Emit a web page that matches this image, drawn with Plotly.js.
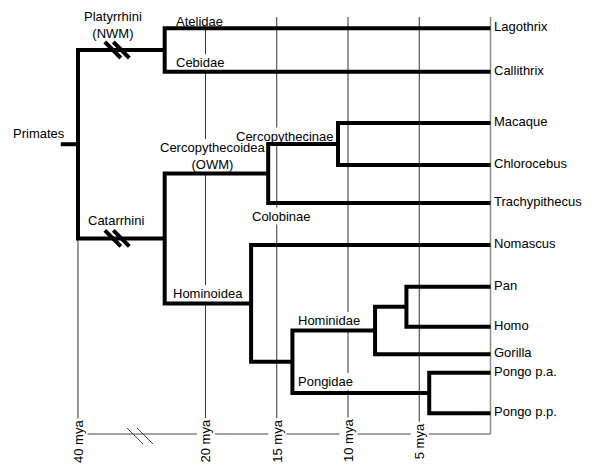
<!DOCTYPE html>
<html><head><meta charset="utf-8">
<script src="https://cdn.plot.ly/plotly-3.0.1.min.js"></script>
<style>html,body{margin:0;padding:0;background:#fff}#chart{width:600px;height:468px}</style>
</head><body><div id="chart"></div>
<script>
// ---------------- data ----------------
const leafNames = ['Lagothrix','Callithrix','Macaque','Chlorocebus','Trachypithecus','Nomascus','Pan','Homo','Gorilla','Pongo p.a.','Pongo p.p.'];
const cladeNames = ['Primates','Platyrrhini','Catarrhini','Cercopithecoidea','Cercopithecinae','Hominoidea','Great apes','Hominidae','Pan-Homo','Pongo'];
const cladeAges = [40, 26.4, 26.4, 15.6, 10.7, 16.8, 13.9, 8.1, 5.9, 4.3]; // mya
const cladeChildren = [
  ['Platyrrhini','Catarrhini'],
  ['Lagothrix','Callithrix'],
  ['Cercopithecoidea','Hominoidea'],
  ['Cercopithecinae','Trachypithecus'],
  ['Macaque','Chlorocebus'],
  ['Nomascus','Great apes'],
  ['Hominidae','Pongo'],
  ['Pan-Homo','Gorilla'],
  ['Pan','Homo'],
  ['Pongo p.a.','Pongo p.p.']
];
const stemAge = 42.7;
const tickAges = [40, 20, 15, 10, 5];
const tickLabels = ['40 mya','20 mya','15 mya','10 mya','5 mya'];
const branchLabelTexts = ['Primates','Platyrrhini<br>(NWM)','Atelidae','Cebidae','Catarrhini','Cercopythecoidea<br>(OWM)','Cercopythecinae','Colobinae','Hominoidea','Hominidae','Pongidae'];
const branchLabelTargets = ['Primates','Platyrrhini','Lagothrix','Callithrix','Catarrhini','Cercopithecoidea','Cercopithecinae','Trachypithecus','Hominoidea','Hominidae','Pongo'];

// ---------------- layout settings ----------------
const leafRows = [28.3, 71.7, 123, 165, 203, 245, 286.7, 326.7, 354.3, 372.7, 413.3];
// [xanchor, dx px from branch start, dy px from branch]
const labelPlacement = [
  ['right', 6, -11],
  ['center', 35, -25],
  ['left', 9.5, -7],
  ['left', 9.5, -9],
  ['center', 38, -18],
  ['center', 48.5, -17.5],
  ['center', 16.7, -8],
  ['left', -18.3, 13],
  ['center', 43.5, -10],
  ['left', 4, -10],
  ['left', 4, -11.5]
];
const FONT = 'Liberation Sans, Arial, Helvetica, sans-serif';
const FS = 13;
const GRID_TOP = 17, AXIS_Y = 434, TICK_LABEL_Y = 441;

// broken time axis: 0-20 mya linear, 20-40 mya compressed
function disp(m){ return m <= 20 ? m : 20 + (m - 20) * 0.4474; }

const cladeIdx = {}; cladeNames.forEach((n,i)=>cladeIdx[n]=i);
const leafIdx = {}; leafNames.forEach((n,i)=>leafIdx[n]=i);
const parentOf = {};
cladeChildren.forEach((ch,i)=>ch.forEach(c=>parentOf[c]=cladeNames[i]));
function ageOf(n){ return (n in cladeIdx) ? cladeAges[cladeIdx[n]] : 0; }
const yCache = {};
function yOf(n){
  if (n in yCache) return yCache[n];
  let y;
  if (n in leafIdx) y = leafRows[leafIdx[n]];
  else { const ch = cladeChildren[cladeIdx[n]]; y = ch.reduce((s,c)=>s+yOf(c),0)/ch.length; }
  yCache[n] = y; return y;
}

// ---------------- tree branches ----------------
const tx = [], ty = [];
const rootY = yOf('Primates');
tx.push(disp(stemAge), disp(cladeAges[0]), null); ty.push(rootY, rootY, null);
cladeNames.forEach((n,i)=>{
  const x = disp(cladeAges[i]);
  const [a,b] = cladeChildren[i];
  tx.push(disp(ageOf(a)), x, x, disp(ageOf(b)), null);
  ty.push(yOf(a), yOf(a), yOf(b), yOf(b), null);
});
const traces = [{
  type:'scatter', mode:'lines', x:tx, y:ty, hoverinfo:'skip',
  line:{color:'#000', width:4, shape:'linear'}
}];

// ---------------- shapes ----------------
const shapes = [];
tickAges.forEach(a=>{
  shapes.push({type:'line', layer:'below', xref:'x', yref:'y', x0:disp(a), x1:disp(a),
    y0:(a===40 ? rootY : GRID_TOP), y1:AXIS_Y, line:{color:'#333', width:1}});
});
shapes.push({type:'line', layer:'below', xref:'x', yref:'y', x0:disp(40), x1:0, y0:AXIS_Y, y1:AXIS_Y, line:{color:'#444', width:1}});
shapes.push({type:'line', layer:'below', xref:'x', yref:'y', x0:0, x1:0, y0:GRID_TOP, y1:AXIS_Y, line:{color:'#8c8c8c', width:1.5}});
// axis break glyph
[-6.7, 3.3].forEach(d=>{
  shapes.push({type:'line', xref:'x', yref:'y', xsizemode:'pixel', ysizemode:'pixel',
    xanchor:disp(30), yanchor:AXIS_Y, x0:d-8, x1:d+8, y0:6, y1:-10, line:{color:'#444', width:1}});
});
// branch break glyphs on the two long stems
['Platyrrhini','Catarrhini'].forEach(n=>{
  const mid = (disp(cladeAges[0]) + disp(ageOf(n)))/2;
  [-8.5, 0].forEach(d=>{
    shapes.push({type:'line', xref:'x', yref:'y', xsizemode:'pixel', ysizemode:'pixel',
      xanchor:mid, yanchor:yOf(n), x0:d-8, x1:d+8, y0:8, y1:-8, line:{color:'#000', width:4}});
  });
});

// ---------------- annotations ----------------
const ctx = document.createElement('canvas').getContext('2d');
ctx.font = FS + 'px "Liberation Sans", Arial, sans-serif';
const annotations = [];
branchLabelTexts.forEach((t,i)=>{
  const target = branchLabelTargets[i];
  const [anc, dx, dy] = labelPlacement[i];
  const x0 = target === 'Primates' ? disp(stemAge) : disp(ageOf(parentOf[target]));
  const y = yOf(target) + dy;
  annotations.push({text:t, x:x0, y:y, xref:'x', yref:'y', showarrow:false,
    xanchor:anc, yanchor:'middle', xshift:dx, font:{family:FONT, size:FS, color:'#000'}});
  const lines = t.split('<br>');
  const w = Math.max(...lines.map(s=>ctx.measureText(s).width));
  let a0, a1;
  if (anc==='left'){ a0 = dx-1; a1 = dx+w+1; }
  else if (anc==='right'){ a0 = dx-w-1; a1 = dx+1; }
  else { a0 = dx-w/2-1; a1 = dx+w/2+1; }
  const h = lines.length*FS*1.3/2;
  shapes.push({type:'rect', layer:'below', xref:'x', yref:'y', xsizemode:'pixel', ysizemode:'pixel',
    xanchor:x0, yanchor:y, x0:a0, x1:a1, y0:-h, y1:h, fillcolor:'#fff', line:{width:0}});
});
leafNames.forEach((n,i)=>{
  annotations.push({text:n, x:0, y:leafRows[i], xref:'x', yref:'y', showarrow:false,
    xanchor:'left', yanchor:'middle', xshift:1, yshift:1.5, font:{family:FONT, size:FS, color:'#000'}});
});
tickAges.forEach((a,i)=>{
  annotations.push({text:tickLabels[i], x:disp(a), y:TICK_LABEL_Y, xref:'x', yref:'y', showarrow:false,
    textangle:-90, xanchor:'center', yanchor:'middle', bgcolor:'#fff', borderpad:1,
    font:{family:FONT, size:FS, color:'#000'}});
});

const layout = {
  width:600, height:468, margin:{l:0, r:0, t:0, b:0},
  paper_bgcolor:'#fff', plot_bgcolor:'#fff', showlegend:false, hovermode:false,
  font:{family:FONT, size:FS, color:'#000'},
  xaxis:{range:[34.42, -7.684], visible:false, fixedrange:true},
  yaxis:{range:[468, 0], visible:false, fixedrange:true},
  shapes:shapes, annotations:annotations
};
Plotly.newPlot('chart', traces, layout, {displayModeBar:false, staticPlot:true});
</script>
</body></html>
